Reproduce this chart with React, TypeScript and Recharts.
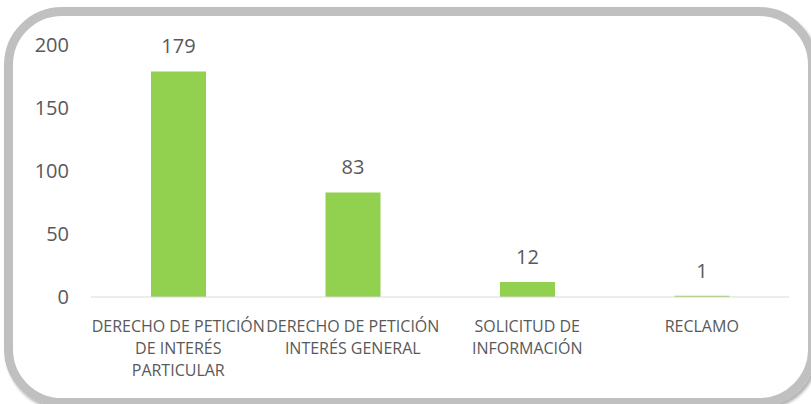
import React from "react";
import { BarChart, Bar, XAxis, YAxis, LabelList } from "recharts";

const categories = [
  "DERECHO DE PETICIÓN DE INTERÉS PARTICULAR",
  "DERECHO DE PETICIÓN INTERÉS GENERAL",
  "SOLICITUD DE INFORMACIÓN",
  "RECLAMO",
];
const counts = [179, 83, 12, 1];
const tickLines = [
  ["DERECHO DE PETICIÓN", "DE INTERÉS", "PARTICULAR"],
  ["DERECHO DE PETICIÓN", "INTERÉS GENERAL"],
  ["SOLICITUD DE", "INFORMACIÓN"],
  ["RECLAMO"],
];
const yTicks = [0, 50, 100, 150, 200];

const data = categories.map((c, i) => ({ name: c, value: counts[i] }));

const FONT = "'Open Sans', sans-serif";
const TEXT = "#595959";

const CategoryTick = (props: any) => {
  const { x, y, index } = props;
  const lines = tickLines[index] || [];
  return (
    <g>
      {lines.map((l: string, i: number) => (
        <text
          key={i}
          x={x}
          y={y + 35 + i * 22}
          textAnchor="middle"
          fill={TEXT}
          fontSize={16}
          fontFamily={FONT}
        >
          {l}
        </text>
      ))}
    </g>
  );
};

const ValueLabel = (props: any) => {
  const { x, y, width, value } = props;
  return (
    <text
      x={x + width / 2}
      y={y - 18}
      textAnchor="middle"
      fill={TEXT}
      fontSize={20}
      fontFamily={FONT}
    >
      {value}
    </text>
  );
};

export default function App() {
  return (
    <div style={{ position: "absolute", left: 0, top: 0, width: 811, height: 404, background: "#fff", overflow: "hidden" }}>
      <div
        style={{
          position: "absolute",
          left: 4,
          top: 7,
          width: 813,
          height: 400,
          boxSizing: "border-box",
          border: "9px solid #c0c0c0",
          borderRadius: 58,
          boxShadow: "2px 3px 3px rgba(0,0,0,0.3)",
        }}
      />
      <div style={{ position: "absolute", left: 0, top: 0 }}>
        <BarChart
          width={811}
          height={404}
          data={data}
          margin={{ top: 45, right: 22, bottom: 0, left: 0 }}
        >
          <XAxis
            dataKey="name"
            height={107}
            tickLine={false}
            tickSize={0}
            tickMargin={0}
            axisLine={{ stroke: "#d9d9d9", strokeWidth: 1 }}
            tick={<CategoryTick />}
            interval={0}
          />
          <YAxis
            width={91}
            domain={[0, 200]}
            ticks={yTicks}
            axisLine={false}
            tickLine={false}
            tickSize={0}
            tickMargin={22}
            tick={{ fill: TEXT, fontSize: 20, fontFamily: FONT }}
          />
          <Bar dataKey="value" fill="#92d050" barSize={55} isAnimationActive={false}>
            <LabelList dataKey="value" content={<ValueLabel />} />
          </Bar>
        </BarChart>
      </div>
    </div>
  );
}
